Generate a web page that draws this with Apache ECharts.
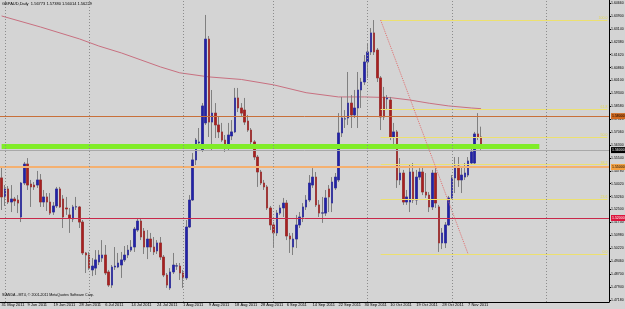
<!DOCTYPE html>
<html>
<head>
<meta charset="utf-8">
<title>GBPAUD Daily</title>
<script src="https://cdn.jsdelivr.net/npm/echarts@6/dist/echarts.min.js"></script>
<style>
  html, body { margin: 0; padding: 0; background: #d4d4d4; }
  #chart { width: 625px; height: 309px; }
</style>
</head>
<body>
<div id="chart"></div>
<script>
// daily bars, oldest first
var barOpen = [
  1.5436, 1.5324, 1.5371, 1.5294, 1.5312, 1.5306, 1.5206, 1.5406, 1.5518, 1.5400,
  1.5394, 1.5394, 1.5424, 1.5294, 1.5324, 1.5294, 1.5235, 1.5271, 1.5371, 1.5312,
  1.5259, 1.5218, 1.5194, 1.5265, 1.5265, 1.5176, 1.4994, 1.4982, 1.4894, 1.4905,
  1.4941, 1.4964, 1.4982, 1.4882, 1.4805, 1.4911, 1.4911, 1.4923, 1.4953, 1.4982,
  1.5011, 1.5029, 1.5129, 1.5182, 1.5123, 1.5029, 1.5076, 1.5029, 1.5006, 1.5053,
  1.4970, 1.4864, 1.4788, 1.4882, 1.4917, 1.4917, 1.4876, 1.4847, 1.5147, 1.5306,
  1.5542, 1.5642, 1.5600, 1.5760, 1.6254, 1.5765, 1.5818, 1.5748, 1.5707, 1.5659,
  1.5618, 1.5683, 1.5707, 1.5907, 1.5848, 1.5836, 1.5771, 1.5718, 1.5648, 1.5559,
  1.5471, 1.5406, 1.5383, 1.5259, 1.5159, 1.5112, 1.5229, 1.5259, 1.5288, 1.5094,
  1.5029, 1.5076, 1.5159, 1.5206, 1.5265, 1.5306, 1.5394, 1.5441, 1.5277, 1.5229,
  1.5229, 1.5371, 1.5288, 1.5377, 1.5424, 1.5701, 1.5783, 1.5789, 1.5877, 1.5807,
  1.5848, 1.5954, 1.6001, 1.6119, 1.6178, 1.6290, 1.6189, 1.6025, 1.5913, 1.5901,
  1.5895, 1.5677, 1.5707, 1.5424, 1.5465, 1.5294, 1.5294, 1.5471, 1.5306, 1.5441,
  1.5471, 1.5353, 1.5335, 1.5265, 1.5465, 1.5265, 1.5053, 1.5053, 1.5159, 1.5318,
  1.5436, 1.5506, 1.5424, 1.5441, 1.5453, 1.5524, 1.5524, 1.5695, 1.56773
];
var barClose = [
  1.5324, 1.5371, 1.5294, 1.5312, 1.5300, 1.5288, 1.5406, 1.5518, 1.5394, 1.5383,
  1.5383, 1.5424, 1.5294, 1.5324, 1.5294, 1.5229, 1.5271, 1.5371, 1.5265, 1.5206,
  1.5253, 1.5200, 1.5265, 1.5266, 1.5176, 1.4994, 1.4982, 1.4905, 1.4917, 1.4953,
  1.4982, 1.4982, 1.4876, 1.4805, 1.4911, 1.4917, 1.4935, 1.4953, 1.4982, 1.5011,
  1.5029, 1.5135, 1.5182, 1.5088, 1.5029, 1.5076, 1.5029, 1.5000, 1.5053, 1.4970,
  1.4864, 1.4805, 1.4882, 1.4923, 1.4918, 1.4876, 1.4847, 1.5147, 1.5306, 1.5542,
  1.5659, 1.5648, 1.5860, 1.6254, 1.5765, 1.5818, 1.5748, 1.5707, 1.5659, 1.5612,
  1.5689, 1.5707, 1.5907, 1.5848, 1.5818, 1.5765, 1.5718, 1.5648, 1.5559, 1.5471,
  1.5406, 1.5383, 1.5259, 1.5159, 1.5112, 1.5229, 1.5259, 1.5288, 1.5094, 1.5076,
  1.5076, 1.5159, 1.5206, 1.5265, 1.5306, 1.5406, 1.5441, 1.5277, 1.5229, 1.5230,
  1.5318, 1.5324, 1.5412, 1.5441, 1.5701, 1.5789, 1.5784, 1.5877, 1.5807, 1.5848,
  1.5954, 1.6001, 1.6119, 1.6178, 1.6290, 1.6178, 1.6025, 1.5795, 1.5795, 1.5907,
  1.5677, 1.5707, 1.5424, 1.5465, 1.5294, 1.5324, 1.5471, 1.5306, 1.5441, 1.5471,
  1.5353, 1.5335, 1.5265, 1.5465, 1.5288, 1.5053, 1.5112, 1.5159, 1.5318, 1.5436,
  1.5506, 1.5424, 1.5453, 1.5465, 1.5536, 1.5589, 1.5695, 1.5677, 1.56229
];
var barLow = [
  1.5247, 1.5271, 1.5282, 1.5235, 1.5271, 1.5229, 1.5176, 1.5394, 1.5365, 1.5265,
  1.5365, 1.5377, 1.5265, 1.5265, 1.5241, 1.5218, 1.5218, 1.5259, 1.5259, 1.5141,
  1.5218, 1.5112, 1.5176, 1.5247, 1.5141, 1.4982, 1.4876, 1.4894, 1.4858, 1.4864,
  1.4923, 1.4941, 1.4864, 1.4794, 1.4788, 1.4894, 1.4905, 1.4847, 1.4941, 1.4964,
  1.5000, 1.5000, 1.5118, 1.5070, 1.4988, 1.4958, 1.5000, 1.4982, 1.4988, 1.4953,
  1.4852, 1.4788, 1.4776, 1.4870, 1.4894, 1.4835, 1.4788, 1.4835, 1.5141, 1.5300,
  1.5512, 1.5612, 1.5589, 1.5748, 1.5677, 1.5600, 1.5671, 1.5671, 1.5648, 1.5589,
  1.5600, 1.5659, 1.5701, 1.5824, 1.5801, 1.5748, 1.5707, 1.5618, 1.5542, 1.5383,
  1.5394, 1.5365, 1.5247, 1.5129, 1.5029, 1.5094, 1.5218, 1.5206, 1.5070, 1.4994,
  1.4982, 1.5023, 1.5141, 1.5176, 1.5247, 1.5294, 1.5377, 1.5265, 1.5206, 1.5171,
  1.5212, 1.5235, 1.5235, 1.5365, 1.5412, 1.5677, 1.5730, 1.5748, 1.5730, 1.5789,
  1.5730, 1.5848, 1.5983, 1.6025, 1.6160, 1.6160, 1.6001, 1.5718, 1.5777, 1.5836,
  1.5659, 1.5612, 1.5377, 1.5394, 1.5277, 1.5277, 1.5235, 1.5288, 1.5277, 1.5424,
  1.5335, 1.5318, 1.5235, 1.5247, 1.5259, 1.5000, 1.5017, 1.5023, 1.5153, 1.5306,
  1.5347, 1.5383, 1.5347, 1.5424, 1.5441, 1.5512, 1.5512, 1.5659, 1.56014
];
var barHigh = [
  1.5500, 1.5394, 1.5388, 1.5394, 1.5324, 1.5335, 1.5412, 1.5530, 1.5553, 1.5424,
  1.5412, 1.5477, 1.5459, 1.5365, 1.5347, 1.5347, 1.5294, 1.5383, 1.5383, 1.5335,
  1.5324, 1.5259, 1.5277, 1.5324, 1.5271, 1.5188, 1.5000, 1.5000, 1.4964, 1.5011,
  1.5011, 1.5070, 1.5041, 1.4894, 1.4923, 1.5029, 1.4994, 1.5000, 1.5035, 1.5041,
  1.5070, 1.5147, 1.5200, 1.5200, 1.5141, 1.5129, 1.5112, 1.5088, 1.5070, 1.5088,
  1.4982, 1.4876, 1.4905, 1.4994, 1.4935, 1.4935, 1.4894, 1.5188, 1.5335, 1.5583,
  1.5671, 1.5730, 1.5877, 1.6396, 1.6272, 1.5954, 1.5877, 1.5795, 1.5760, 1.5689,
  1.5760, 1.5777, 1.5966, 1.5966, 1.5877, 1.5907, 1.5807, 1.5730, 1.5659, 1.5571,
  1.5483, 1.5424, 1.5394, 1.5271, 1.5176, 1.5247, 1.5277, 1.5318, 1.5306, 1.5112,
  1.5112, 1.5218, 1.5235, 1.5288, 1.5335, 1.5453, 1.5494, 1.5471, 1.5306, 1.5324,
  1.5365, 1.5394, 1.5441, 1.5465, 1.5818, 1.5913, 1.5836, 1.6060, 1.5924, 1.5954,
  1.6060, 1.6025, 1.6160, 1.6231, 1.6319, 1.6366, 1.6201, 1.6036, 1.5972, 1.5924,
  1.5913, 1.5760, 1.5718, 1.5553, 1.5483, 1.5365, 1.5512, 1.5524, 1.5483, 1.5494,
  1.5500, 1.5465, 1.5353, 1.5483, 1.5494, 1.5277, 1.5141, 1.5176, 1.5330, 1.5453,
  1.5559, 1.5559, 1.5500, 1.5524, 1.5559, 1.5618, 1.5707, 1.5818, 1.57380
];

// chart window is wider than the data (empty space on the right)
var slotCount = 188;
var dateLabels = [
  '31 May 2011', '9 Jun 2011', '19 Jun 2011', '28 Jun 2011', '6 Jul 2011',
  '14 Jul 2011', '24 Jul 2011', '1 Aug 2011', '9 Aug 2011', '18 Aug 2011',
  '28 Aug 2011', '6 Sep 2011', '14 Sep 2011', '22 Sep 2011', '30 Sep 2011',
  '10 Oct 2011', '19 Oct 2011', '28 Oct 2011', '7 Nov 2011'
];
var labelStep = 8;
var monthStarts = [1, 27, 56, 84, 113, 139, 168];

var priceTicks = [
  1.4718, 1.4794, 1.4870, 1.4946, 1.5022, 1.5098, 1.5174, 1.5250, 1.5326, 1.5402,
  1.5478, 1.5554, 1.5630, 1.5706, 1.5782, 1.5858, 1.5934, 1.6010, 1.6086, 1.6162,
  1.6238, 1.6314, 1.6390, 1.6466
];

// 200 day moving average, read at a few bars
var maPoints = [
  [0, 1.6390], [12, 1.6325], [24, 1.6255], [30, 1.6213], [37, 1.6172],
  [43, 1.6131], [49, 1.6090], [55, 1.6055], [64, 1.6031], [74, 1.6016],
  [84, 1.5984], [94, 1.5938], [104, 1.5913], [112, 1.5913], [120, 1.5909],
  [126, 1.5895], [132, 1.5876], [138, 1.5860], [145, 1.5848], [148, 1.5844]
];

// hand drawn levels
var levelSienna = 1.5763;
var levelGreen = 1.5620;
var greenEnd = 166;
var levelOrange = 1.5479;
var levelRed = 1.5212;
var bidPrice = 1.56229;

// fibonacci from the Oct high to the Oct low
var fibHigh = 1.6366;
var fibLow = 1.4988;
var fibStart = 117;
var fibEnd = 144;
var fibRatios = [0, 0.236, 0.382, 0.5, 0.618, 1];

var header = 'GBPAUD,Daily  1.56773 1.57380 1.56014 1.56229';
var copyright = 'SIANDA - MT4, \u00a9 2001-2011 MetaQuotes Software Corp.';

var cats = [];
for (var i = 0; i < slotCount; i++) cats.push(String(i));

var wickData = [], bodyData = [];
for (var i = 0; i < barOpen.length; i++) {
  var o = barOpen[i], c = barClose[i];
  wickData.push([o, c, barLow[i], barHigh[i]]);
  bodyData.push([o, c, Math.min(o, c), Math.max(o, c)]);
}

function boxLabel(bg, fg) {
  return {
    show: true, position: 'end', distance: 2,
    formatter: function (p) { return p.value.toFixed(5); },
    backgroundColor: bg, color: fg, fontSize: 3.5, padding: [1, 1],
    fontFamily: 'Liberation Sans'
  };
}

function solid(color, width) {
  return { color: color, width: width, type: 'solid', opacity: 1 };
}

var levelLines = [
  { yAxis: levelSienna, lineStyle: solid('#c8703a', 1), label: boxLabel('#d2691e', '#000') },
  { yAxis: bidPrice, lineStyle: solid('#a8a8a8', 1), label: boxLabel('#000', '#fff') },
  { yAxis: levelOrange, lineStyle: solid('#f4b070', 2), label: boxLabel('#f4a040', '#000') },
  { yAxis: levelRed, lineStyle: solid('#c8284a', 1), label: boxLabel('#dc143c', '#fff') },
  [
    { coord: ['0', levelGreen], lineStyle: solid('#80ec28', 5) },
    { coord: [String(greenEnd), levelGreen] }
  ]
];

var fibLines = fibRatios.map(function (r) {
  var v = fibLow + (fibHigh - fibLow) * r;
  return [
    { coord: [String(fibStart), v],
      lineStyle: solid('#ece070', 1),
      label: { show: true, position: 'insideEndTop', distance: 0, formatter: (r * 100).toFixed(1),
               color: '#e4d858', fontSize: 3.5, fontFamily: 'Liberation Sans' } },
    { coord: [String(slotCount - 1), v] }
  ];
});
fibLines.push([
  { coord: [String(fibStart), fibHigh], lineStyle: { color: '#e07070', type: 'dotted', width: 1 } },
  { coord: [String(fibEnd), fibLow] }
]);

var sepLines = monthStarts.map(function (k) {
  return { xAxis: String(k) };
});

var chart = echarts.init(document.getElementById('chart'), null, { renderer: 'canvas' });

var option = {
  backgroundColor: '#d4d4d4',
  animation: false,
  textStyle: { fontFamily: 'Liberation Sans' },
  title: [
    { text: header, left: 2, top: 2, padding: 0,
      textStyle: { fontSize: 4, fontWeight: 'normal', color: '#000', fontFamily: 'Liberation Sans' } },
    { text: copyright, left: 2, top: 293, padding: 0,
      textStyle: { fontSize: 3.6, fontWeight: 'normal', color: '#000', fontFamily: 'Liberation Sans' } }
  ],
  grid: { left: 0, right: 16, top: 0, bottom: 7, outerBoundsMode: 'none' },
  xAxis: {
    type: 'category',
    data: cats,
    boundaryGap: true,
    axisLine: { lineStyle: { color: '#000', width: 1 } },
    axisTick: {
      length: 2, lineStyle: { color: '#000' },
      interval: function (idx) { return idx % labelStep === 0 && idx / labelStep < dateLabels.length; },
      alignWithLabel: true
    },
    axisLabel: {
      interval: function (idx) { return idx % labelStep === 0 && idx / labelStep < dateLabels.length; },
      formatter: function (val, idx) { return dateLabels[idx / labelStep] || ''; },
      fontSize: 4, color: '#000', align: 'left', margin: 1
    },
    splitLine: { show: false }
  },
  yAxis: {
    type: 'value',
    position: 'right',
    min: 1.47052,
    max: 1.6484,
    axisLine: { show: true, lineStyle: { color: '#000', width: 1 } },
    axisTick: { show: true, length: 2, customValues: priceTicks, lineStyle: { color: '#000' } },
    axisLabel: {
      customValues: priceTicks,
      formatter: function (v) { return v.toFixed(5); },
      fontSize: 3.5, color: '#000', margin: 2
    },
    splitLine: { show: false }
  },
  series: [
    {
      name: 'levels',
      type: 'line',
      data: [],
      z: 1,
      markLine: {
        silent: true, symbol: 'none', animation: false,
        label: { show: false },
        data: levelLines
      }
    },
    {
      name: 'fibo',
      type: 'line',
      data: [],
      z: 1,
      markLine: {
        silent: true, symbol: 'none', animation: false,
        lineStyle: { color: '#ece070', width: 1, type: 'solid' },
        label: { show: false },
        data: fibLines
      }
    },
    {
      name: 'separators',
      type: 'line',
      data: [],
      z: 1,
      markLine: {
        silent: true, symbol: 'none', animation: false,
        lineStyle: { color: '#8c8c8c', width: 1, type: [1, 2] },
        label: { show: false },
        data: sepLines
      }
    },
    {
      name: 'MA200',
      type: 'line',
      data: maPoints,
      showSymbol: false,
      z: 2,
      lineStyle: { color: '#c87080', width: 1 }
    },
    {
      name: 'wicks',
      type: 'candlestick',
      data: wickData,
      barWidth: 2,
      z: 3,
      itemStyle: {
        color: '#808080', color0: '#808080',
        borderColor: '#808080', borderColor0: '#808080', borderColorDoji: '#404040',
        borderWidth: 1
      }
    },
    {
      name: 'bodies',
      type: 'candlestick',
      data: bodyData,
      barWidth: 2,
      z: 4,
      itemStyle: {
        color: '#2222a8', color0: '#a82020',
        borderColor: '#2222a8', borderColor0: '#a82020', borderColorDoji: '#404040',
        borderWidth: 0.5
      }
    }
  ]
};

chart.setOption(option);
</script>
</body>
</html>
